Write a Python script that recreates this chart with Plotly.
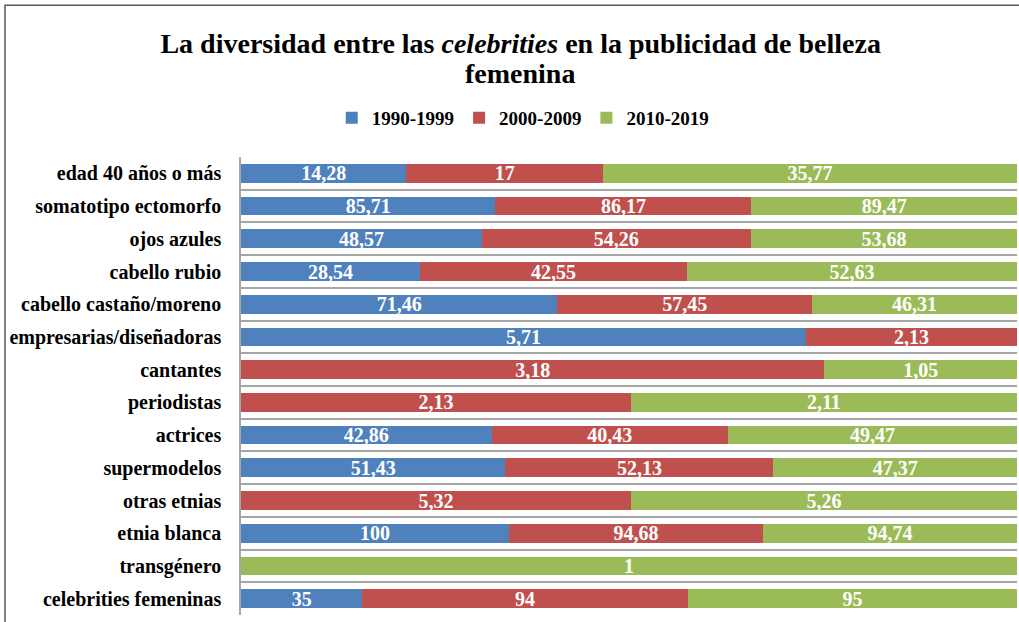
import plotly.graph_objects as go

categories = [
    "edad 40 años o más",
    "somatotipo ectomorfo",
    "ojos azules",
    "cabello rubio",
    "cabello castaño/moreno",
    "empresarias/diseñadoras",
    "cantantes",
    "periodistas",
    "actrices",
    "supermodelos",
    "otras etnias",
    "etnia blanca",
    "transgénero",
    "celebrities femeninas",
]
series_names = ["1990-1999", "2000-2009", "2010-2019"]
v1990 = [14.28, 85.71, 48.57, 28.54, 71.46, 5.71, 0, 0, 42.86, 51.43, 0, 100, 0, 35]
v2000 = [17, 86.17, 54.26, 42.55, 57.45, 2.13, 3.18, 2.13, 40.43, 52.13, 5.32, 94.68, 0, 94]
v2010 = [35.77, 89.47, 53.68, 52.63, 46.31, 0, 1.05, 2.11, 49.47, 47.37, 5.26, 94.74, 1, 95]
colors = ["#4F81BD", "#C0504D", "#9BBB59"]

FONT = "Liberation Serif, Times New Roman, serif"


def fmt(v):
    s = ("%g" % v)
    return s.replace(".", ",")


fig = go.Figure()
for name, vals, col in zip(series_names, [v1990, v2000, v2010], colors):
    fig.add_trace(go.Bar(
        y=categories, x=vals, name=name, orientation="h",
        marker=dict(color=col, line=dict(width=0)),
        text=[fmt(v) for v in vals], texttemplate="%{text}",
        textposition="inside", insidetextanchor="middle", textangle=0,
        textfont=dict(family=FONT, size=20, color="white", weight="bold"),
        constraintext="none",
    ))

fig.update_layout(
    width=1019, height=622,
    barmode="stack", barnorm="percent", bargap=0.43,
    paper_bgcolor="white", plot_bgcolor="white",
    margin=dict(l=241, r=2, t=157, b=7, autoexpand=False),
    title=dict(
        text="La diversidad entre las <i>celebrities</i> en la publicidad de belleza",
        x=0.511, xanchor="center", y=1 - 43 / 622, yref="container", yanchor="middle",
        font=dict(family=FONT, size=28, color="black", weight="bold"),
    ),
    legend=dict(
        orientation="h", x=0.513, xref="container", xanchor="center",
        y=1 - 118 / 622, yref="container", yanchor="middle",
        font=dict(family=FONT, size=19, color="black", weight="bold"),
        itemwidth=30, traceorder="normal",
    ),
    showlegend=True,
    xaxis=dict(range=[0, 100], showticklabels=False, showgrid=False,
               zeroline=False, showline=False, automargin=False),
    yaxis=dict(autorange="reversed", tickson="boundaries", showgrid=True,
               gridcolor="#A6A6A6", gridwidth=1.5, ticks="",
               showline=True, linecolor="#A6A6A6", linewidth=1.5,
               ticklabelstandoff=14, automargin=False,
               tickfont=dict(family=FONT, size=20, color="black", weight="bold")),
)

fig.add_annotation(
    text="femenina", xref="paper", yref="paper",
    x=(520 - 241) / 776, y=1 + (157 - 73) / 458.5,
    xanchor="center", yanchor="middle", showarrow=False,
    font=dict(family=FONT, size=28, color="black", weight="bold"),
)

# outer chart frame (cropped at right/bottom in the reference)
fig.add_shape(type="rect", xref="paper", yref="paper",
              x0=(5 - 241) / 776, x1=1.2, y0=-0.2, y1=1 + (157 - 5) / 458.5,
              line=dict(color="#595959", width=1.5), layer="below")

fig.write_html("out.html",
               config={"displayModeBar": False},
               post_script="document.body.style.margin='0';document.body.style.overflow='hidden';")
